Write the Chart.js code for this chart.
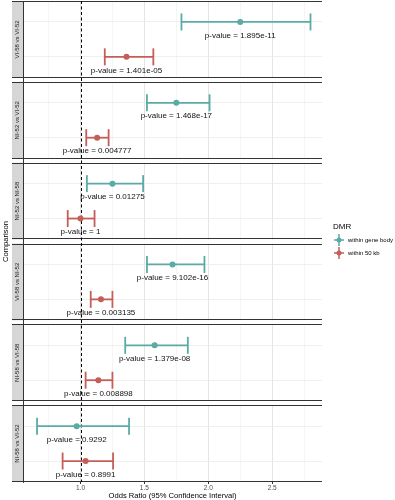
<!DOCTYPE html>
<html>
<head>
<meta charset="utf-8">
<script src="https://cdn.jsdelivr.net/npm/chart.js@4"></script>
<style>
  html, body { margin: 0; padding: 0; background: #fff; }
</style>
</head>
<body>
<canvas id="forest" width="395" height="500"></canvas>
<script>
/* forest plot, one facet per comparison */

// facets, top to bottom
const comparisons = ['VI-58 vs VI-52', 'NI-52 vs VI-52', 'NI-52 vs NI-58', 'VI-58 vs NI-52', 'NI-58 vs VI-58', 'NI-58 vs VI-52'];
const seriesNames = ['within gene body', 'within 50 kb'];
const seriesColors = ['#5aaba5', '#c55d58'];

// within gene body
const geneBodyOR = [2.25, 1.75, 1.25, 1.72, 1.58, 0.97];
const geneBodyLow = [1.79, 1.52, 1.05, 1.52, 1.35, 0.66];
const geneBodyHigh = [2.80, 2.01, 1.49, 1.97, 1.84, 1.38];
const geneBodyP = ['1.895e-11', '1.468e-17', '0.01275', '9.102e-16', '1.379e-08', '0.9292'];

// within 50 kb
const kb50OR = [1.36, 1.13, 1.00, 1.16, 1.14, 1.04];
const kb50Low = [1.19, 1.045, 0.90, 1.08, 1.04, 0.86];
const kb50High = [1.57, 1.22, 1.11, 1.25, 1.25, 1.255];
const kb50P = ['1.401e-05', '0.004777', '1', '0.003135', '0.008898', '0.8991'];

const xTicks = [1.0, 1.5, 2.0, 2.5];
const refLine = 1;

const estimates = [geneBodyOR, kb50OR];
const lows = [geneBodyLow, kb50Low];
const highs = [geneBodyHigh, kb50High];
const pValues = [geneBodyP, kb50P];

const FONT = "'Liberation Sans', Arial, sans-serif";

// y scale: facet i covers [i, i+1], with a small gap between facets
const PANEL_GAP = 0.05;
function panelTop(i) { return i + PANEL_GAP / 2; }
function panelBottom(i) { return i + 1 - PANEL_GAP / 2; }
function rowValue(i, s) {
  // two discrete levels with ggplot's 0.6 expansion
  const frac = (s + 0.6) / 2.2;
  return panelTop(i) + frac * (1 - PANEL_GAP);
}

const rows = [];
comparisons.forEach((c, i) => { rows.push(rowValue(i, 0), rowValue(i, 1)); });

function isMajor(v) {
  return Math.abs(v * 2 - Math.round(v * 2)) < 1e-6;
}

const datasets = [];
seriesNames.forEach((name, s) => {
  comparisons.forEach((c, i) => {
    datasets.push({
      label: name,
      data: [{x: lows[s][i], y: rowValue(i, s)}, {x: highs[s][i], y: rowValue(i, s)}],
      showLine: true,
      borderColor: seriesColors[s],
      borderWidth: 1.8,
      pointStyle: 'line',
      pointRotation: 90,
      pointRadius: 8.5,
      pointBorderWidth: 1.8,
      pointBorderColor: seriesColors[s],
    });
  });
  datasets.push({
    label: name,
    data: estimates[s].map((v, i) => ({x: v, y: rowValue(i, s)})),
    showLine: false,
    pointStyle: 'circle',
    pointRadius: 3,
    pointBackgroundColor: seriesColors[s],
    pointBorderWidth: 0,
  });
});

const facetPlugin = {
  id: 'facets',
  beforeDatasetsDraw(chart) {
    const ctx = chart.ctx;
    const area = chart.chartArea;
    const ys = chart.scales.y;
    const xs = chart.scales.x;
    ctx.save();

    // white gaps between facets
    ctx.fillStyle = '#fff';
    for (let i = 1; i < comparisons.length; i++) {
      const y1 = ys.getPixelForValue(panelBottom(i - 1));
      const y2 = ys.getPixelForValue(panelTop(i));
      ctx.fillRect(area.left + 1, y1, area.right - area.left, y2 - y1);
    }

    // strips + facet borders
    comparisons.forEach((c, i) => {
      const y1 = ys.getPixelForValue(panelTop(i));
      const y2 = ys.getPixelForValue(panelBottom(i));
      ctx.fillStyle = '#d6d6d6';
      ctx.fillRect(12, y1, area.left - 12, y2 - y1);

      ctx.strokeStyle = '#333';
      ctx.lineWidth = 1;
      ctx.beginPath();
      ctx.moveTo(12, Math.round(y1) + 0.5);
      ctx.lineTo(area.right, Math.round(y1) + 0.5);
      ctx.moveTo(12, Math.round(y2) - 0.5);
      ctx.lineTo(area.right, Math.round(y2) - 0.5);
      ctx.stroke();

      ctx.save();
      ctx.translate(17.5, (y1 + y2) / 2);
      ctx.rotate(-Math.PI / 2);
      ctx.fillStyle = '#1a1a1a';
      ctx.font = `6px ${FONT}`;
      ctx.textAlign = 'center';
      ctx.textBaseline = 'middle';
      ctx.fillText(c, 0, 0);
      ctx.restore();
    });

    // reference line at OR = 1
    const xr = Math.round(xs.getPixelForValue(refLine)) + 0.5;
    ctx.strokeStyle = '#000';
    ctx.lineWidth = 1;
    ctx.setLineDash([3, 2.5]);
    ctx.beginPath();
    ctx.moveTo(xr, area.top);
    ctx.lineTo(xr, area.bottom);
    ctx.stroke();
    ctx.restore();
  },
  afterDatasetsDraw(chart) {
    const ctx = chart.ctx;
    const ys = chart.scales.y;
    const xs = chart.scales.x;
    ctx.save();
    ctx.fillStyle = '#111';
    ctx.font = `8px ${FONT}`;
    ctx.textAlign = 'center';
    ctx.textBaseline = 'middle';
    seriesNames.forEach((name, s) => {
      comparisons.forEach((c, i) => {
        const px = xs.getPixelForValue(estimates[s][i]);
        const py = ys.getPixelForValue(rowValue(i, s));
        ctx.fillText('p-value = ' + pValues[s][i], px, py + 13.5);
      });
    });
    ctx.restore();
  },
  afterDraw(chart) {
    // legend on the right
    const ctx = chart.ctx;
    const x0 = chart.chartArea.right + 11;
    ctx.save();
    ctx.fillStyle = '#000';
    ctx.font = `8px ${FONT}`;
    ctx.textAlign = 'left';
    ctx.textBaseline = 'middle';
    ctx.fillText('DMR', x0, 227);
    seriesNames.forEach((name, s) => {
      const cx = x0 + 6;
      const cy = 240 + s * 13;
      ctx.strokeStyle = seriesColors[s];
      ctx.lineWidth = 1.5;
      ctx.beginPath();
      ctx.moveTo(cx - 5, cy);
      ctx.lineTo(cx + 5, cy);
      ctx.moveTo(cx, cy - 6);
      ctx.lineTo(cx, cy + 6);
      ctx.stroke();
      ctx.fillStyle = seriesColors[s];
      ctx.beginPath();
      ctx.arc(cx, cy, 2.5, 0, Math.PI * 2);
      ctx.fill();
      ctx.fillStyle = '#000';
      ctx.font = `6px ${FONT}`;
      ctx.fillText(name, x0 + 15, cy);
    });
    ctx.restore();
  }
};

new Chart(document.getElementById('forest').getContext('2d'), {
  type: 'scatter',
  data: { datasets: datasets },
  options: {
    responsive: false,
    animation: false,
    events: [],
    layout: { autoPadding: false, padding: { left: 0, right: 73, top: 1, bottom: 0 } },
    plugins: {
      legend: { display: false },
      tooltip: { enabled: false }
    },
    scales: {
      x: {
        type: 'linear',
        min: 0.55,
        max: 2.89,
        afterFit: (scale) => { scale.height = 18; },
        ticks: {
          stepSize: 0.25,
          includeBounds: false,
          autoSkip: false,
          maxRotation: 0,
          padding: 0,
          color: '#4d4d4d',
          font: { family: FONT, size: 6.5 },
          callback: (v) => xTicks.some(t => Math.abs(t - v) < 1e-6) ? v.toFixed(1) : ''
        },
        grid: {
          color: (c) => isMajor(c.tick.value) ? '#e4e4e4' : '#f0f0f0',
          lineWidth: (c) => isMajor(c.tick.value) ? 1 : 0.7,
          tickLength: 2,
          tickColor: (c) => isMajor(c.tick.value) ? '#333' : 'rgba(0,0,0,0)'
        },
        border: { display: false },
        title: {
          display: true,
          text: 'Odds Ratio (95% Confidence Interval)',
          color: '#000',
          font: { family: FONT, size: 7.6 },
          padding: 0
        }
      },
      y: {
        type: 'linear',
        reverse: true,
        min: PANEL_GAP / 2,
        max: comparisons.length - PANEL_GAP / 2,
        afterBuildTicks: (scale) => { scale.ticks = rows.map(v => ({ value: v })); },
        afterFit: (scale) => { scale.width = 23; },
        ticks: { display: false },
        grid: { color: '#ebebeb', lineWidth: 0.8, drawTicks: false },
        border: { display: true, color: '#333', width: 1 },
        title: {
          display: true,
          text: 'Comparison',
          color: '#000',
          font: { family: FONT, size: 7.6 },
          padding: { top: 1, bottom: 0 }
        }
      }
    }
  },
  plugins: [facetPlugin]
});
</script>
</body>
</html>
